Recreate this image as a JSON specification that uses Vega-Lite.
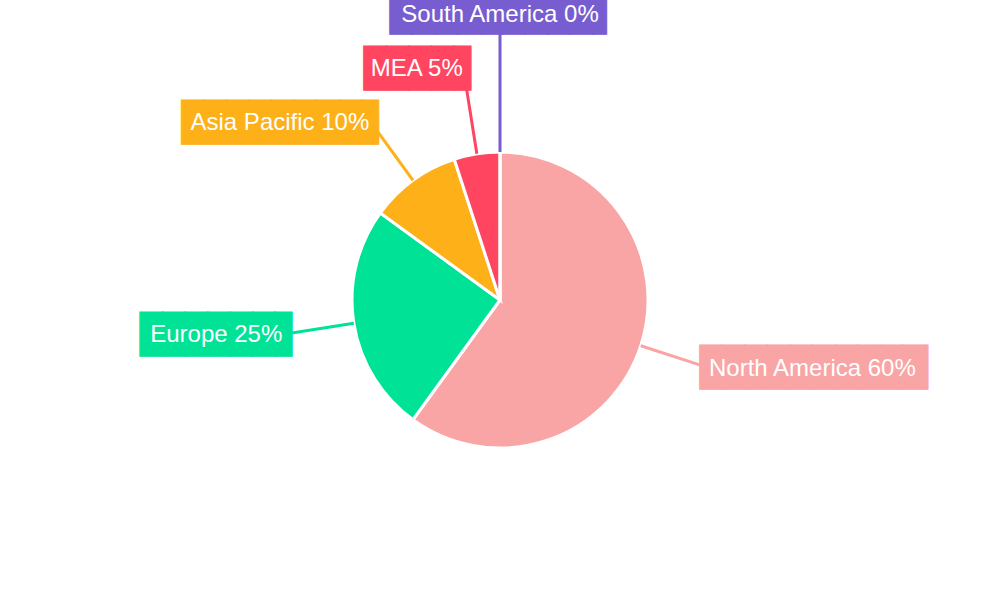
{
  "$schema": "https://vega.github.io/schema/vega-lite/v6.json",
  "width": 1000,
  "height": 600,
  "autosize": {"type": "none"},
  "padding": 0,
  "background": "white",
  "config": {"view": {"stroke": null}},
  "data": {"values": [
    {"region": "North America", "share": 60, "label": "North America 60%"},
    {"region": "Europe", "share": 25, "label": "Europe 25%"},
    {"region": "Asia Pacific", "share": 10, "label": "Asia Pacific 10%"},
    {"region": "MEA", "share": 5, "label": "MEA 5%"},
    {"region": "South America", "share": 0, "label": "South America 0%"}
  ]},
  "encoding": {
    "theta": {"field": "share", "type": "quantitative", "stack": true},
    "order": {"field": "share", "type": "quantitative", "sort": "descending"}
  },
  "layer": [
    {
      "mark": {"type": "arc", "outerRadius": 148, "stroke": "white", "strokeWidth": 3},
      "encoding": {
        "color": {"field": "region", "type": "nominal", "legend": null,
          "scale": {"domain": ["North America", "Europe", "Asia Pacific", "MEA", "South America"],
                    "range": ["#F9A4A5", "#00E396", "#FEB019", "#FF4560", "#775DD0"]}}
      }
    },
    {
      "transform": [
        {"stack": "share", "groupby": [], "sort": [{"field": "share", "order": "descending"}], "as": ["s0", "s1"]}
      ],
      "mark": {"type": "arc", "filled": false, "strokeWidth": 3, "innerRadius": 148,
        "outerRadius": {"expr": "datum.region === 'South America' ? 268 : 214"},
        "thetaOffset": {"expr": "PI * datum.share / 100"},
        "theta2Offset": {"expr": "PI * datum.share / 100"}},
      "encoding": {
        "theta": {"field": "s0", "type": "quantitative", "stack": null},
        "theta2": {"field": "s0"},
        "color": {"field": "region", "type": "nominal", "legend": null}
      }
    },
    {
      "mark": {"type": "text", "radius": 210, "font": "DejaVu Sans Mono", "fontSize": 37.4,
        "align": "left", "baseline": "alphabetic", "strokeWidth": 1,
        "dx": {"expr": "datum.region === 'North America' ? 0.3 : datum.region === 'Europe' ? -152.6 : datum.region === 'Asia Pacific' ? -194.9 : datum.region === 'MEA' ? -103.1 : -110"},
        "dy": {"expr": "datum.region === 'North America' ? 15.6 : datum.region === 'Europe' ? 14.1 : datum.region === 'Asia Pacific' ? 4.4 : datum.region === 'MEA' ? -11.7 : -65.1"}},
      "encoding": {
        "color": {"field": "region", "type": "nominal", "legend": null},
        "stroke": {"field": "region", "type": "nominal", "legend": null,
          "scale": {"domain": ["North America", "Europe", "Asia Pacific", "MEA", "South America"],
                    "range": ["#F9A4A5", "#00E396", "#FEB019", "#FF4560", "#775DD0"]}},
        "text": {
          "condition": [
            {"test": "datum.region === 'North America'", "value": "██████████▏"},
            {"test": "datum.region === 'Europe'", "value": "██████▊"},
            {"test": "datum.region === 'Asia Pacific'", "value": "████████▊"},
            {"test": "datum.region === 'MEA'", "value": "████▊"}
          ],
          "value": "█████████▋"
        }
      }
    },
    {
      "mark": {"type": "text", "radius": 210, "font": "Liberation Sans", "fontSize": 24,
        "fill": "white", "baseline": "alphabetic",
        "align": {"expr": "datum.region === 'North America' ? 'left' : datum.region === 'South America' ? 'center' : 'right'"},
        "dx": {"expr": "datum.region === 'North America' ? 9.3 : datum.region === 'Europe' ? -10.3 : datum.region === 'Asia Pacific' ? -7.3 : datum.region === 'MEA' ? -4.4 : 0"},
        "dy": {"expr": "datum.region === 'North America' ? 10.8 : datum.region === 'Europe' ? 9.2 : datum.region === 'Asia Pacific' ? -0.1 : datum.region === 'MEA' ? -16.6 : -68.3"}},
      "encoding": {
        "text": {"field": "label", "type": "nominal"},
        "detail": {"field": "region", "type": "nominal"}
      }
    }
  ]
}
